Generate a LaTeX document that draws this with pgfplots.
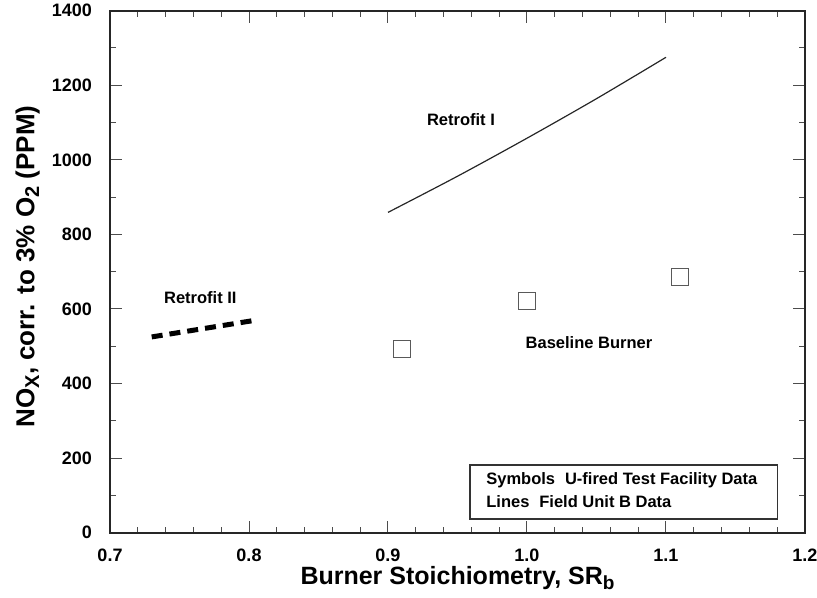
\documentclass[border=0pt]{standalone}
\usepackage{fontspec}
\setmainfont{Liberation Sans}
\usepackage{pgfplots}
\pgfplotsset{compat=1.18}
\newcommand{\lsub}[1]{\raisebox{-0.35ex}{\fontsize{9.5}{10}\selectfont #1}}
\newcommand{\ysub}[1]{\raisebox{-0.35ex}{\fontsize{10}{11}\selectfont #1}}
\begin{document}
\begin{tikzpicture}
\begin{axis}[
  scale only axis, width=347.5pt, height=261pt,
  xmin=0.7, xmax=1.2, ymin=0, ymax=1400,
  xtick={0.7,0.8,0.9,1.0,1.1,1.2},
  xticklabels={0.7,0.8,0.9,1.0,1.1,1.2},
  ytick={0,200,400,600,800,1000,1200,1400},
  yticklabels={0,200,400,600,800,1000,1200,1400},
  minor x tick num=4, minor y tick num=1,
  tick align=inside,
  major tick length=6pt, minor tick length=3pt,
  axis line style={line width=1.1pt, black!85},
  every tick/.style={black!70, line width=0.5pt},
  tick label style={font=\fontsize{9}{10}\selectfont\bfseries},
  /pgf/number format/assume math mode=true,
  xticklabel style={yshift=-4.5pt},
  yticklabel style={xshift=-5.5pt},
  xlabel={Burner Stoichiometry, SR\lsub{b}},
  ylabel={NO\ysub{X}, corr. to 3\% O\ysub{2} (PPM)},
  xlabel style={font=\fontsize{12.5}{14}\selectfont\bfseries, at={(axis description cs:0.5,0)}, anchor=north, yshift=-13.5pt},
  ylabel style={font=\fontsize{13}{15}\selectfont\bfseries, at={(axis description cs:-0.109,0.51)}, anchor=base},
  clip=false,
]
% Retrofit I (field unit B data)
\addplot[black!85, line width=0.6pt, smooth] coordinates {
  (0.90,859) (0.95,956) (1.00,1058) (1.05,1164) (1.10,1275)
};
% Retrofit II (field unit B data)
\addplot[black, line width=2.5pt, dash pattern=on 5.5pt off 3.5pt] coordinates {
  (0.730,525) (0.805,570)
};
% Baseline burner (U-fired test facility data)
\addplot[only marks, mark=square, mark size=4.3pt,
  mark options={draw=black!65, line width=0.65pt, fill=white}] coordinates {
  (0.91,492) (1.00,621) (1.11,686)
};
\node[font=\fontsize{8.25}{10}\selectfont\bfseries] at (axis cs:0.9525,1109) {Retrofit I};
\node[font=\fontsize{8.25}{10}\selectfont\bfseries] at (axis cs:0.765,631) {Retrofit II};
\node[font=\fontsize{8.25}{10}\selectfont\bfseries] at (axis cs:1.0446,509) {Baseline Burner};
\draw[black!80, line width=0.6pt] (axis cs:0.959,36.7) rectangle (axis cs:1.1804,181.5);
\node[anchor=base west, inner sep=0pt, font=\fontsize{8.25}{10}\selectfont\bfseries] at (axis cs:0.9705,128) {Symbols\hspace{0.6em}U-fired Test Facility Data};
\node[anchor=base west, inner sep=0pt, font=\fontsize{8.25}{10}\selectfont\bfseries] at (axis cs:0.9705,68) {Lines\hspace{0.6em}Field Unit B Data};
\coordinate (bbl) at (rel axis cs:-0.1583,-0.1251);
\coordinate (btr) at (rel axis cs:1.0173,1.0205);
\end{axis}
\pgfresetboundingbox
\path[use as bounding box] (bbl) rectangle (btr);
\end{tikzpicture}
\end{document}
